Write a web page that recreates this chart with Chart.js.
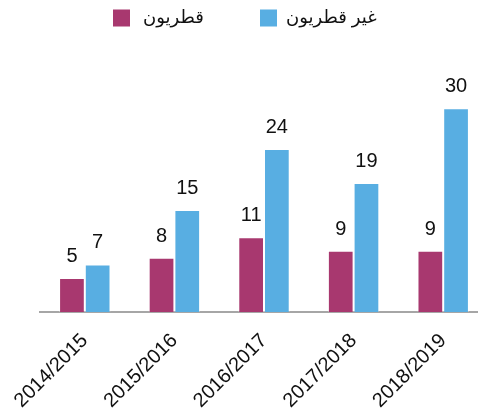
<!DOCTYPE html>
<html>
<head>
<meta charset="utf-8">
<script src="https://cdn.jsdelivr.net/npm/chart.js@4"></script>
<style>
  html, body { margin: 0; padding: 0; background: #fff; overflow: hidden; }
  #wrap { width: 488px; height: 413px; position: relative; }
</style>
</head>
<body>
<div id="wrap"><canvas id="chart"></canvas></div>
<script>
// ============================
// DATA
// ============================
const seasons = ['2014/2015', '2015/2016', '2016/2017', '2017/2018', '2018/2019'];
const seriesNames = ['قطريون', 'غير قطريون'];
const qatari = [5, 8, 11, 9, 9];
const nonQatari = [7, 15, 24, 19, 30];
const colors = ['#A8386F', '#58AEE2'];

const FONT = 'Arial, "Liberation Sans", "DejaVu Sans", sans-serif';

// value labels above bars
const valueLabels = {
  id: 'valueLabels',
  afterDatasetsDraw(chart) {
    const ctx = chart.ctx;
    ctx.save();
    ctx.font = '20px ' + FONT;
    ctx.fillStyle = '#111';
    ctx.textAlign = 'center';
    ctx.textBaseline = 'alphabetic';
    chart.data.datasets.forEach((ds, i) => {
      chart.getDatasetMeta(i).data.forEach((bar, j) => {
        ctx.fillText(String(ds.data[j]), bar.x, bar.y - 16);
      });
    });
    ctx.restore();
  }
};

// legend drawn at the top, box on the left of each label
const topLegend = {
  id: 'topLegend',
  afterDraw(chart) {
    const ctx = chart.ctx;
    ctx.save();
    ctx.font = '18px ' + FONT;
    ctx.textBaseline = 'middle';
    ctx.textAlign = 'left';
    const box = 17, gapText = 13, y = 18;
    const starts = [113, 260];
    chart.data.datasets.forEach((ds, i) => {
      const x = starts[i];
      ctx.fillStyle = ds.backgroundColor;
      ctx.fillRect(x, y - box / 2, box, box);
      ctx.fillStyle = '#111';
      ctx.fillText(ds.label, x + box + gapText - 4 * i, y);
    });
    ctx.restore();
  }
};

new Chart(document.getElementById('chart'), {
  type: 'bar',
  data: {
    labels: seasons,
    datasets: [
      { label: seriesNames[0], data: qatari, backgroundColor: colors[0],
        borderColor: 'rgba(255,255,255,0.35)', borderWidth: 1 },
      { label: seriesNames[1], data: nonQatari, backgroundColor: colors[1],
        borderColor: 'rgba(255,255,255,0.35)', borderWidth: 1 }
    ]
  },
  options: {
    responsive: true,
    maintainAspectRatio: false,
    animation: false,
    layout: { padding: { top: 81, left: 40, right: 0, bottom: 0 } },
    datasets: { bar: { barPercentage: 1, categoryPercentage: 0.574 } },
    plugins: {
      legend: { display: false },
      tooltip: { enabled: false }
    },
    scales: {
      x: {
        grid: { display: false, drawTicks: false },
        border: { display: true, color: '#A6A6A6', width: 2 },
        ticks: {
          color: '#111',
          font: { family: FONT, size: 20 },
          maxRotation: 45, minRotation: 45,
          padding: 17
        },
        afterFit(scale) {
          scale.height = 101;
          scale.paddingLeft = 0;
          scale.paddingRight = 0;
        }
      },
      y: {
        display: false,
        min: 0,
        max: 34
      }
    }
  },
  plugins: [valueLabels, topLegend]
});
</script>
</body>
</html>
